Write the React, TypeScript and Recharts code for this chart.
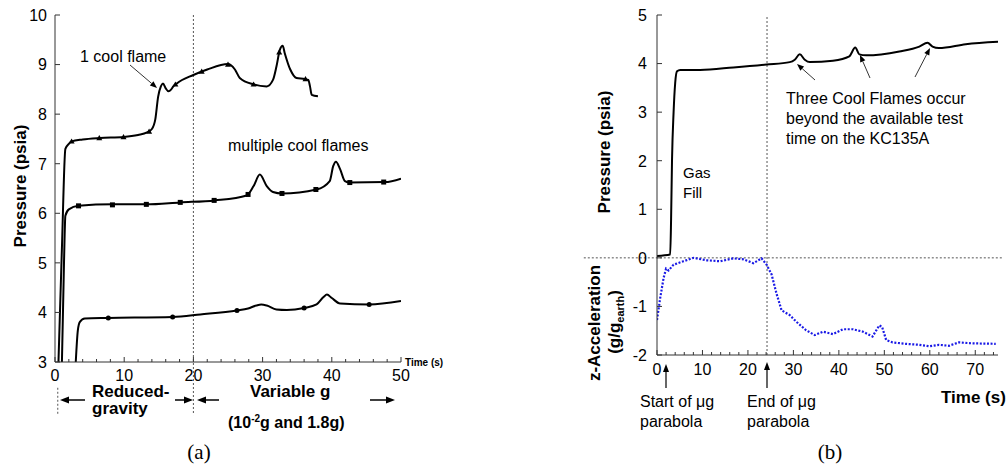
import React from 'react';
import { ComposedChart, Line, XAxis, YAxis, ReferenceLine } from 'recharts';

// ---------- Panel (a) data ----------
const aTicksX = [0, 2, 4, 6, 8, 10, 12, 14, 16, 18, 20, 22, 24, 26, 28, 30, 32, 34, 36, 38, 40, 42, 44, 46, 48, 50];
const aTicksY = [3, 4, 5, 6, 7, 8, 9, 10];

const oneFlame = [
  { t: 0.5, v: 3.0 }, { t: 1.0, v: 5.3 }, { t: 1.5, v: 7.3 }, { t: 2.0, v: 7.4 }, { t: 2.4, v: 7.45 },
  { t: 4, v: 7.49 }, { t: 6.5, v: 7.52 }, { t: 9.9, v: 7.54 }, { t: 12, v: 7.58 }, { t: 13.3, v: 7.63 },
  { t: 14.0, v: 7.7 }, { t: 14.5, v: 7.9 }, { t: 14.9, v: 8.35 }, { t: 15.3, v: 8.56 }, { t: 15.6, v: 8.62 },
  { t: 16.0, v: 8.52 }, { t: 16.4, v: 8.46 }, { t: 16.8, v: 8.5 }, { t: 17.1, v: 8.56 }, { t: 17.6, v: 8.62 },
  { t: 20, v: 8.79 }, { t: 22, v: 8.9 }, { t: 25, v: 9.01 }, { t: 26, v: 8.9 }, { t: 26.7, v: 8.73 },
  { t: 28.7, v: 8.6 }, { t: 30.6, v: 8.56 }, { t: 31.5, v: 8.69 }, { t: 32.0, v: 8.96 }, { t: 32.5, v: 9.3 },
  { t: 32.9, v: 9.38 }, { t: 33.2, v: 9.23 }, { t: 34.0, v: 8.9 }, { t: 34.9, v: 8.73 }, { t: 36.1, v: 8.71 },
  { t: 36.6, v: 8.69 }, { t: 36.85, v: 8.56 }, { t: 37.1, v: 8.39 }, { t: 38.0, v: 8.36 },
];
const oneFlameMarks = [
  { t: 2.4, v: 7.45 }, { t: 6.4, v: 7.52 }, { t: 9.9, v: 7.54 }, { t: 13.6, v: 7.65 }, { t: 17.4, v: 8.6 },
  { t: 21.2, v: 8.86 }, { t: 25, v: 9.0 }, { t: 28.7, v: 8.6 }, { t: 32.4, v: 9.25 }, { t: 36.2, v: 8.71 },
];

const multiFlame = [
  { t: 1.0, v: 3.0 }, { t: 1.3, v: 5.0 }, { t: 1.5, v: 5.95 }, { t: 2.0, v: 6.08 }, { t: 3.4, v: 6.15 },
  { t: 8.4, v: 6.18 }, { t: 13.2, v: 6.18 }, { t: 18.1, v: 6.22 }, { t: 23.1, v: 6.26 }, { t: 27.7, v: 6.36 },
  { t: 28.7, v: 6.55 }, { t: 29.6, v: 6.78 }, { t: 30.6, v: 6.55 }, { t: 31.5, v: 6.43 }, { t: 32.8, v: 6.4 },
  { t: 37.8, v: 6.48 }, { t: 39.7, v: 6.65 }, { t: 40.2, v: 6.95 }, { t: 40.6, v: 7.04 }, { t: 41.2, v: 6.89 },
  { t: 41.9, v: 6.65 }, { t: 42.6, v: 6.62 }, { t: 47.7, v: 6.63 }, { t: 50, v: 6.7 },
];
const multiFlameMarks = [
  { t: 3.4, v: 6.15 }, { t: 8.3, v: 6.17 }, { t: 13.2, v: 6.18 }, { t: 18.1, v: 6.22 }, { t: 23.0, v: 6.26 },
  { t: 27.9, v: 6.38 }, { t: 32.8, v: 6.4 }, { t: 37.7, v: 6.48 }, { t: 42.6, v: 6.62 }, { t: 47.5, v: 6.63 },
];

const lowCurve = [
  { t: 3.0, v: 3.0 }, { t: 3.3, v: 3.64 }, { t: 3.6, v: 3.81 }, { t: 4.3, v: 3.88 }, { t: 7.7, v: 3.89 },
  { t: 17.0, v: 3.91 }, { t: 21, v: 3.96 }, { t: 26.3, v: 4.04 }, { t: 27.9, v: 4.08 }, { t: 29.1, v: 4.14 },
  { t: 29.8, v: 4.16 }, { t: 30.6, v: 4.14 }, { t: 32, v: 4.06 }, { t: 33.5, v: 4.05 }, { t: 36, v: 4.09 },
  { t: 37.8, v: 4.16 }, { t: 38.8, v: 4.31 }, { t: 39.3, v: 4.36 }, { t: 40, v: 4.29 }, { t: 41.2, v: 4.18 },
  { t: 45.4, v: 4.16 }, { t: 50, v: 4.23 },
];
const lowCurveMarks = [
  { t: 7.7, v: 3.89 }, { t: 17.0, v: 3.91 }, { t: 26.3, v: 4.04 }, { t: 36.0, v: 4.09 }, { t: 45.4, v: 4.16 },
];

// ---------- Panel (b) data ----------
const bTicksX = Array.from({ length: 38 }, (_, i) => i * 2);
const bTicksY = [-2, -1, 0, 1, 2, 3, 4, 5];

const pressureB = [
  { t: 0, v: 0.04 }, { t: 2.9, v: 0.07 }, { t: 3.1, v: 0.8 }, { t: 3.3, v: 2.0 }, { t: 3.65, v: 3.0 },
  { t: 4.0, v: 3.6 }, { t: 4.4, v: 3.84 }, { t: 5.1, v: 3.87 }, { t: 9.5, v: 3.87 }, { t: 16.8, v: 3.92 },
  { t: 24.1, v: 3.98 }, { t: 29.2, v: 4.03 }, { t: 30.3, v: 4.08 }, { t: 31.4, v: 4.19 }, { t: 32.5, v: 4.08 },
  { t: 33.6, v: 4.03 }, { t: 38.7, v: 4.06 }, { t: 42.3, v: 4.15 }, { t: 43.6, v: 4.33 }, { t: 44.5, v: 4.19 },
  { t: 46, v: 4.17 }, { t: 53.3, v: 4.25 }, { t: 57.7, v: 4.35 }, { t: 59.5, v: 4.43 }, { t: 60.6, v: 4.35 },
  { t: 62, v: 4.32 }, { t: 67.9, v: 4.4 }, { t: 75, v: 4.45 },
];

const accelB = [
  { t: 0, v: -1.28 }, { t: 0.73, v: -0.81 }, { t: 1.46, v: -0.41 }, { t: 2.0, v: -0.22 }, { t: 2.55, v: -0.26 },
  { t: 3.65, v: -0.14 }, { t: 5.8, v: -0.07 }, { t: 8, v: 0.0 }, { t: 10.95, v: -0.05 }, { t: 13.9, v: -0.07 },
  { t: 16.8, v: -0.01 }, { t: 19, v: -0.03 }, { t: 21.2, v: -0.11 }, { t: 23, v: -0.01 }, { t: 24.1, v: -0.14 },
  { t: 25.2, v: -0.34 }, { t: 26.3, v: -0.74 }, { t: 27.4, v: -1.08 }, { t: 29.2, v: -1.18 }, { t: 30.7, v: -1.32 },
  { t: 32.8, v: -1.49 }, { t: 34.7, v: -1.59 }, { t: 36.5, v: -1.52 }, { t: 38.7, v: -1.57 }, { t: 40.9, v: -1.47 },
  { t: 43.1, v: -1.47 }, { t: 45.3, v: -1.52 }, { t: 47.4, v: -1.62 }, { t: 48.9, v: -1.39 }, { t: 49.5, v: -1.42 },
  { t: 50.4, v: -1.69 }, { t: 51.8, v: -1.74 }, { t: 54.7, v: -1.77 }, { t: 57.7, v: -1.79 }, { t: 59.9, v: -1.82 },
  { t: 62, v: -1.79 }, { t: 64.2, v: -1.81 }, { t: 66.4, v: -1.74 }, { t: 69.3, v: -1.76 }, { t: 74.5, v: -1.77 },
];

const FRAME = '#333';
const FONT = '"Liberation Sans", Arial, sans-serif';
const GRAY = '#555';

const BottomTick = (props: any) => {
  const { x, y, payload, labelDy } = props;
  const major = payload.value % 10 === 0;
  return (
    <g>
      <line x1={x} x2={x} y1={y} y2={y - (major ? 5 : 3)} stroke={FRAME} />
      {major && (
        <text x={x} y={y + labelDy} textAnchor="middle" fontSize={16} fontFamily={FONT} fill="#000">
          {payload.value}
        </text>
      )}
    </g>
  );
};
const TopTick = (props: any) => {
  const { x, y, payload } = props;
  const major = payload.value % 10 === 0;
  return <line x1={x} x2={x} y1={y} y2={y + (major ? 5 : 3)} stroke={FRAME} />;
};
const LeftTick = (props: any) => {
  const { x, y, payload, gap } = props;
  return (
    <g>
      <line x1={x} x2={x + 5} y1={y} y2={y} stroke={FRAME} />
      <text x={x - gap} y={y + 5.8} textAnchor="end" fontSize={16} fontFamily={FONT} fill="#000">
        {payload.value}
      </text>
    </g>
  );
};
const RightTick = (props: any) => {
  const { x, y } = props;
  return <line x1={x} x2={x - 5} y1={y} y2={y} stroke={FRAME} />;
};

const tri = (p: any) => (
  <polygon key={`tri-${p.index}`} points={`${p.cx},${p.cy - 3} ${p.cx - 3},${p.cy + 2.2} ${p.cx + 3},${p.cy + 2.2}`} fill="#000" />
);
const sq = (p: any) => <rect key={`sq-${p.index}`} x={p.cx - 2.5} y={p.cy - 2.5} width={5} height={5} fill="#000" />;
const circ = (p: any) => <circle key={`c-${p.index}`} cx={p.cx} cy={p.cy} r={2.5} fill="#000" />;

const Arrow = ({ x1, y1, x2, y2, w = 1, head = 7, hw = 3 }: any) => {
  const dx = x2 - x1;
  const dy = y2 - y1;
  const len = Math.sqrt(dx * dx + dy * dy);
  const ux = dx / len;
  const uy = dy / len;
  const bx = x2 - ux * head;
  const by = y2 - uy * head;
  const px = -uy * hw;
  const py = ux * hw;
  return (
    <g>
      <line x1={x1} y1={y1} x2={bx} y2={by} stroke="#000" strokeWidth={w} />
      <polygon points={`${x2},${y2} ${bx + px},${by + py} ${bx - px},${by - py}`} fill="#000" />
    </g>
  );
};

export default function App() {
  return (
    <div style={{ position: 'absolute', left: 0, top: 0, width: 1008, height: 474, background: '#fff', overflow: 'hidden' }}>
      <div style={{ position: 'absolute', left: 0, top: 0 }}>
        <ComposedChart width={460} height={474} margin={{ top: 15, right: 59, bottom: 0, left: 0 }}>
          <XAxis xAxisId="b" type="number" dataKey="t" domain={[0, 50]} ticks={aTicksX} interval={0}
            tickSize={0} tickMargin={0} height={112} axisLine={{ stroke: FRAME }} tickLine={false}
            tick={<BottomTick labelDy={19} />} allowDataOverflow />
          <XAxis xAxisId="top" orientation="top" type="number" dataKey="t" domain={[0, 50]} ticks={aTicksX}
            interval={0} tickSize={0} tickMargin={0} height={0} axisLine={{ stroke: FRAME }} tickLine={false}
            tick={<TopTick />} allowDataOverflow />
          <YAxis yAxisId="l" type="number" dataKey="v" domain={[3, 10]} ticks={aTicksY} interval={0}
            tickSize={0} tickMargin={0} width={55} axisLine={{ stroke: FRAME }} tickLine={false}
            tick={<LeftTick gap={8} />} allowDataOverflow />
          <YAxis yAxisId="r" orientation="right" type="number" dataKey="v" domain={[3, 10]} ticks={aTicksY}
            interval={0} tickSize={0} tickMargin={0} width={0} axisLine={{ stroke: FRAME }} tickLine={false}
            tick={<RightTick />} allowDataOverflow />
          <ReferenceLine xAxisId="b" yAxisId="l" segment={[{ x: 20, y: 10 }, { x: 20, y: 1.93 }]} ifOverflow="visible"
            stroke={GRAY} strokeDasharray="2 2" />
          <ReferenceLine xAxisId="b" yAxisId="l" segment={[{ x: 0.4, y: 2.48 }, { x: 0.4, y: 1.95 }]} ifOverflow="visible"
            stroke={GRAY} strokeDasharray="2 2" />
          <Line xAxisId="b" yAxisId="l" data={oneFlame} dataKey="v" type="monotone" stroke="#000" strokeWidth={2}
            dot={false} isAnimationActive={false} />
          <Line xAxisId="b" yAxisId="l" data={multiFlame} dataKey="v" type="monotone" stroke="#000" strokeWidth={2}
            dot={false} isAnimationActive={false} />
          <Line xAxisId="b" yAxisId="l" data={lowCurve} dataKey="v" type="monotone" stroke="#000" strokeWidth={2}
            dot={false} isAnimationActive={false} />
          <Line xAxisId="b" yAxisId="l" data={oneFlameMarks} dataKey="v" stroke="none" dot={tri}
            activeDot={false} isAnimationActive={false} />
          <Line xAxisId="b" yAxisId="l" data={multiFlameMarks} dataKey="v" stroke="none" dot={sq}
            activeDot={false} isAnimationActive={false} />
          <Line xAxisId="b" yAxisId="l" data={lowCurveMarks} dataKey="v" stroke="none" dot={circ}
            activeDot={false} isAnimationActive={false} />
        </ComposedChart>
      </div>

      <div style={{ position: 'absolute', left: 500, top: 0 }}>
        <ComposedChart width={508} height={474} margin={{ top: 15, right: 10, bottom: 0, left: 0 }}>
          <XAxis xAxisId="b" type="number" dataKey="t" domain={[0, 75]} ticks={bTicksX} interval={0}
            tickSize={0} tickMargin={0} height={119} axisLine={{ stroke: FRAME }} tickLine={false}
            tick={<BottomTick labelDy={20} />} allowDataOverflow />
          <XAxis xAxisId="top" orientation="top" type="number" dataKey="t" domain={[0, 75]} ticks={bTicksX}
            interval={0} tickSize={0} tickMargin={0} height={0} axisLine={{ stroke: FRAME }} tickLine={false}
            tick={<TopTick />} allowDataOverflow />
          <YAxis yAxisId="l" type="number" dataKey="v" domain={[-2, 5]} ticks={bTicksY} interval={0}
            tickSize={0} tickMargin={0} width={157} axisLine={{ stroke: FRAME }} tickLine={false}
            tick={<LeftTick gap={10} />} allowDataOverflow />
          <YAxis yAxisId="r" orientation="right" type="number" dataKey="v" domain={[-2, 5]} ticks={bTicksY}
            interval={0} tickSize={0} tickMargin={0} width={0} axisLine={{ stroke: FRAME }} tickLine={false}
            tick={<RightTick />} allowDataOverflow />
          <ReferenceLine xAxisId="b" yAxisId="l" x={24.2} stroke={GRAY} strokeDasharray="2 2" />
          <ReferenceLine xAxisId="b" yAxisId="l" segment={[{ x: -16.1, y: 0 }, { x: 75.9, y: 0 }]} ifOverflow="visible"
            stroke={GRAY} strokeDasharray="2 2" />
          <Line xAxisId="b" yAxisId="l" data={pressureB} dataKey="v" type="monotone" stroke="#000" strokeWidth={2}
            dot={false} isAnimationActive={false} />
          <Line xAxisId="b" yAxisId="l" data={accelB} dataKey="v" type="linear" stroke="#1a1ae6" strokeWidth={2.2}
            strokeDasharray="2 1.6" dot={false} isAnimationActive={false} />
        </ComposedChart>
      </div>

      <svg width={1008} height={474} style={{ position: 'absolute', left: 0, top: 0, pointerEvents: 'none' }}
        fontFamily={FONT}>
        {/* Panel (a) annotations */}
        <text transform="translate(26,186) rotate(-90)" textAnchor="middle" fontSize={17} fontWeight="bold">Pressure (psia)</text>
        <text x={405} y={366} fontSize={10} fontWeight="bold">Time (s)</text>
        <text x={80} y={62} fontSize={16}>1 cool flame</text>
        <Arrow x1={130} y1={65} x2={157} y2={88} w={0.8} head={7} hw={2.8} />
        <text x={228} y={151} fontSize={16}>multiple cool flames</text>
        <text x={92} y={397} fontSize={17} fontWeight="bold">Reduced-</text>
        <text x={92} y={414} fontSize={17} fontWeight="bold">gravity</text>
        <text x={250} y={397} fontSize={17} fontWeight="bold">Variable g</text>
        <text x={228} y={428} fontSize={16} fontWeight="bold">
          (10<tspan dy={-6} fontSize={10}>-2</tspan><tspan dy={6}>g and 1.8g)</tspan>
        </text>
        <Arrow x1={85} y1={400} x2={60} y2={400} w={1.5} head={9} hw={3.5} />
        <Arrow x1={175} y1={400} x2={193} y2={400} w={1.5} head={9} hw={3.5} />
        <Arrow x1={219} y1={400} x2={197} y2={400} w={1.5} head={9} hw={3.5} />
        <Arrow x1={370} y1={400} x2={395} y2={400} w={1.5} head={9} hw={3.5} />
        <text x={199} y={459} textAnchor="middle" fontSize={21} fontFamily='"Liberation Serif", "Times New Roman", serif'>(a)</text>

        {/* Panel (b) annotations */}
        <text transform="translate(610,152) rotate(-90)" textAnchor="middle" fontSize={17} fontWeight="bold">Pressure (psia)</text>
        <text transform="translate(600,323) rotate(-90)" textAnchor="middle" fontSize={17} fontWeight="bold">z-Acceleration</text>
        <text transform="translate(620,322) rotate(-90)" textAnchor="middle" fontSize={17} fontWeight="bold">
          (g/g<tspan dy={4} fontSize={11}>earth</tspan><tspan dy={-4}>)</tspan>
        </text>
        <text x={683} y={178} fontSize={15}>Gas</text>
        <text x={683} y={198} fontSize={15}>Fill</text>
        <text x={786} y={104} fontSize={16}>Three Cool Flames occur</text>
        <text x={786} y={124} fontSize={16}>beyond the available test</text>
        <text x={786} y={144} fontSize={16}>time on the KC135A</text>
        <Arrow x1={815} y1={80} x2={797} y2={64} w={0.8} head={7} hw={2.8} />
        <Arrow x1={870} y1={78} x2={860} y2={55} w={0.8} head={7} hw={2.8} />
        <Arrow x1={915} y1={77} x2={930} y2={48} w={0.8} head={7} hw={2.8} />
        <Arrow x1={666} y1={388} x2={666} y2={364} w={1.2} head={8} hw={3} />
        <Arrow x1={767} y1={388} x2={767} y2={362} w={1.2} head={8} hw={3} />
        <text x={640} y={407} fontSize={16}>Start of μg</text>
        <text x={640} y={427} fontSize={16}>parabola</text>
        <text x={747} y={407} fontSize={16}>End of μg</text>
        <text x={747} y={427} fontSize={16}>parabola</text>
        <text x={941} y={403} fontSize={17} fontWeight="bold">Time (s)</text>
        <text x={830} y={459} textAnchor="middle" fontSize={21} fontFamily='"Liberation Serif", "Times New Roman", serif'>(b)</text>
      </svg>
    </div>
  );
}
